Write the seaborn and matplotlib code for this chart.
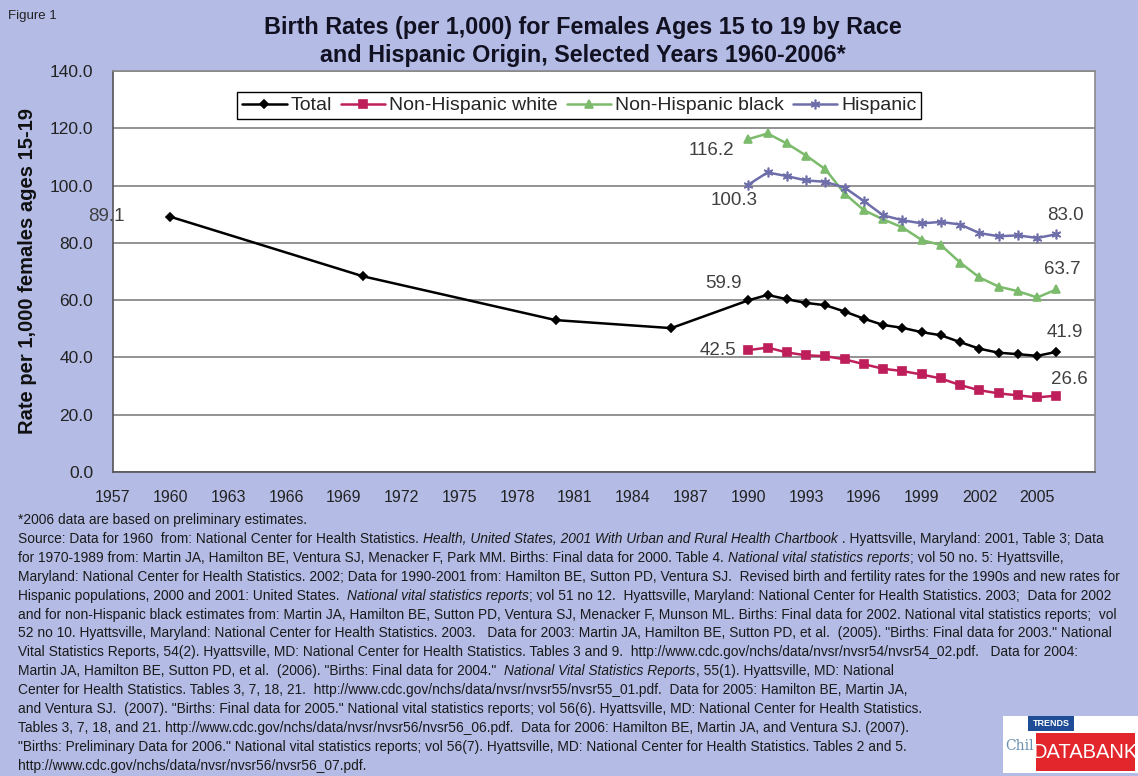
import numpy as np
import pandas as pd
import matplotlib.pyplot as plt
import seaborn as sns
from matplotlib.patches import Rectangle

sns.set_style("white")
plt.rcParams['font.family'] = ['Liberation Sans', 'DejaVu Sans']

# Veriler
total_years = [1960, 1970, 1980, 1986, 1990, 1991, 1992, 1993, 1994, 1995, 1996,
               1997, 1998, 1999, 2000, 2001, 2002, 2003, 2004, 2005, 2006]
total_rates = [89.1, 68.3, 53.0, 50.2, 59.9, 61.8, 60.3, 59.0, 58.2, 56.0, 53.5,
               51.3, 50.3, 48.8, 47.7, 45.3, 43.0, 41.6, 41.1, 40.5, 41.9]
race_years = list(range(1990, 2007))
white_rates = [42.5, 43.4, 41.7, 40.7, 40.4, 39.3, 37.6, 36.0, 35.2, 34.0, 32.6,
               30.3, 28.5, 27.4, 26.7, 26.0, 26.6]
black_rates = [116.2, 118.2, 114.7, 110.5, 105.7, 97.2, 91.4, 88.2, 85.4, 81.0, 79.2,
               73.1, 67.9, 64.7, 63.1, 60.9, 63.7]
hisp_rates = [100.3, 104.6, 103.3, 101.8, 101.3, 99.3, 94.6, 89.6, 87.9, 86.8, 87.3,
              86.4, 83.4, 82.3, 82.6, 81.7, 83.0]

series_names = ["Total", "Non-Hispanic white", "Non-Hispanic black", "Hispanic"]
x_ticks = list(range(1957, 2009, 3))
x_tick_labels = [str(y) if y <= 2005 else "" for y in x_ticks]
y_ticks = [0, 20, 40, 60, 80, 100, 120, 140]

frames = []
for name, yrs, vals in [("Total", total_years, total_rates),
                        ("Non-Hispanic white", race_years, white_rates),
                        ("Non-Hispanic black", race_years, black_rates),
                        ("Hispanic", race_years, hisp_rates)]:
    frames.append(pd.DataFrame({"year": yrs, "rate": vals, "series": name}))
df = pd.concat(frames, ignore_index=True)

styles = {
    "Total": dict(color="black", marker="D", markersize=4.5, mec="black"),
    "Non-Hispanic white": dict(color="#BE1E5A", marker="s", markersize=5.5, mec="#BE1E5A"),
    "Non-Hispanic black": dict(color="#7CBA6C", marker="^", markersize=6, mec="#7CBA6C"),
    "Hispanic": dict(color="#6E6EAA", marker=(6, 2, 0), markersize=7, mec="#6E6EAA"),
}

bg = "#B4BCE6"
fig = plt.figure(figsize=(11.38, 7.76), dpi=100, facecolor=bg)
ax = fig.add_axes([0.099, 0.392, 0.8632, 0.5164])
ax.set_facecolor("white")

for name in series_names:
    st = styles[name]
    sns.lineplot(data=df[df["series"] == name], x="year", y="rate", ax=ax,
                 color=st["color"], marker=st["marker"], markersize=st["markersize"],
                 markeredgecolor=st["mec"], markeredgewidth=1.2, linewidth=1.8,
                 estimator=None, sort=False, label=name)

ax.set_xlim(1957, 2008)
ax.set_ylim(0, 140)
ax.set_xticks(x_ticks)
ax.set_xticklabels(x_tick_labels, fontsize=11.5, color="#222222")
ax.set_yticks(y_ticks)
ax.set_yticklabels([f"{v:.1f}" for v in y_ticks], fontsize=12.5, color="#222222")
ax.tick_params(axis="both", direction="out", length=5, width=1, color="#666666")
ax.tick_params(axis="y", pad=9)
ax.tick_params(axis="x", pad=8)
ax.yaxis.grid(True, color="#8A8A8A", linewidth=1.3)
ax.set_axisbelow(True)
for s in ax.spines.values():
    s.set_color("#8A8A8A")
    s.set_linewidth(1.2)
ax.spines["left"].set_color("#555555")
ax.spines["bottom"].set_color("#555555")
ax.set_xlabel("")
ax.set_ylabel("Rate per 1,000 females ages 15-19", fontsize=14.5, fontweight="bold",
              color="#111111", labelpad=9)

# Veri etiketleri
label_points = [
    ("Total", 1960, (-64, 0)),
    ("Non-Hispanic black", 1990, (-37, -11)),
    ("Hispanic", 1990, (-14, -16)),
    ("Total", 1990, (-25, 17)),
    ("Non-Hispanic white", 1990, (-30, 0)),
    ("Hispanic", 2006, (9, 19)),
    ("Non-Hispanic black", 2006, (6, 20)),
    ("Total", 2006, (8, 19)),
    ("Non-Hispanic white", 2006, (13, 16)),
]
for name, yr, off in label_points:
    row = df[(df["series"] == name) & (df["year"] == yr)]
    val = row["rate"].iloc[0]
    ax.annotate(f"{val:.1f}", xy=(yr, val), xytext=off, textcoords="offset pixels",
                ha="center", va="center", fontsize=13.5, color="#404040")

leg = ax.legend(ncol=4, loc="upper left", bbox_to_anchor=(0.1265, 0.948), frameon=True,
                fancybox=False, edgecolor="black", framealpha=1, fontsize=14,
                handlelength=2.3, columnspacing=0.45, handletextpad=0.2,
                borderpad=0.25, borderaxespad=0)
leg.get_frame().set_linewidth(1.0)

fig.text(0.007, 0.979, "Figure 1", fontsize=9.5, color="#222222", va="center")
fig.text(0.512, 0.965, "Birth Rates (per 1,000) for Females Ages 15 to 19 by Race",
         fontsize=16.8, fontweight="bold", ha="center", va="center", color="#111122")
fig.text(0.512, 0.929, "and Hispanic Origin, Selected Years 1960-2006*",
         fontsize=16.8, fontweight="bold", ha="center", va="center", color="#111122")

# Kaynak notlari
note_lines = [
    [("*2006 data are based on preliminary estimates.", False)],
    [("Source: Data for 1960  from: National Center for Health Statistics. ", False),
     ("Health, United States, 2001 With Urban and Rural Health Chartbook", True),
     (" . Hyattsville, Maryland: 2001, Table 3; Data", False)],
    [("for 1970-1989 from: Martin JA, Hamilton BE, Ventura SJ, Menacker F, Park MM. Births: Final data for 2000. Table 4. ", False),
     ("National vital statistics reports", True),
     ("; vol 50 no. 5: Hyattsville,", False)],
    [("Maryland: National Center for Health Statistics. 2002; Data for 1990-2001 from: Hamilton BE, Sutton PD, Ventura SJ.  Revised birth and fertility rates for the 1990s and new rates for", False)],
    [("Hispanic populations, 2000 and 2001: United States.  ", False),
     ("National vital statistics reports", True),
     ("; vol 51 no 12.  Hyattsville, Maryland: National Center for Health Statistics. 2003;  Data for 2002", False)],
    [("and for non-Hispanic black estimates from: Martin JA, Hamilton BE, Sutton PD, Ventura SJ, Menacker F, Munson ML. Births: Final data for 2002. National vital statistics reports;  vol", False)],
    [("52 no 10. Hyattsville, Maryland: National Center for Health Statistics. 2003.   Data for 2003: Martin JA, Hamilton BE, Sutton PD, et al.  (2005). \"Births: Final data for 2003.\" National", False)],
    [("Vital Statistics Reports, 54(2). Hyattsville, MD: National Center for Health Statistics. Tables 3 and 9.  http://www.cdc.gov/nchs/data/nvsr/nvsr54/nvsr54_02.pdf.   Data for 2004:", False)],
    [("Martin JA, Hamilton BE, Sutton PD, et al.  (2006). \"Births: Final data for 2004.\"  ", False),
     ("National Vital Statistics Reports", True),
     (", 55(1). Hyattsville, MD: National", False)],
    [("Center for Health Statistics. Tables 3, 7, 18, 21.  http://www.cdc.gov/nchs/data/nvsr/nvsr55/nvsr55_01.pdf.  Data for 2005: Hamilton BE, Martin JA,", False)],
    [("and Ventura SJ.  (2007). \"Births: Final data for 2005.\" National vital statistics reports; vol 56(6). Hyattsville, MD: National Center for Health Statistics.", False)],
    [("Tables 3, 7, 18, and 21. http://www.cdc.gov/nchs/data/nvsr/nvsr56/nvsr56_06.pdf.  Data for 2006: Hamilton BE, Martin JA, and Ventura SJ. (2007).", False)],
    [("\"Births: Preliminary Data for 2006.\" National vital statistics reports; vol 56(7). Hyattsville, MD: National Center for Health Statistics. Tables 2 and 5.", False)],
    [("http://www.cdc.gov/nchs/data/nvsr/nvsr56/nvsr56_07.pdf.", False)],
]
note_size = 9.9
y0 = 1 - 520 / 776
dy = 18.9 / 776
for i, segs in enumerate(note_lines):
    yy = y0 - i * dy
    prev = None
    for txt, it in segs:
        style = "italic" if it else "normal"
        if prev is None:
            prev = fig.text(0.016, yy, txt, fontsize=note_size, style=style,
                            color="#1a1a1a", ha="left", va="center")
        else:
            prev = ax.annotate(txt, xy=(1, 0), xycoords=prev, fontsize=note_size,
                               style=style, color="#1a1a1a", ha="left", va="bottom",
                               annotation_clip=False)

# Child Trends DataBank logosu
def px_rect(x0, y0_, x1, y1, color, z):
    fig.patches.append(Rectangle((x0 / 1138, 1 - y1 / 776), (x1 - x0) / 1138,
                                 (y1 - y0_) / 776, transform=fig.transFigure,
                                 facecolor=color, edgecolor="none", zorder=z))

px_rect(1003, 716, 1138, 773, "white", 4)
fig.text(1005 / 1138, 1 - 746 / 776, "Chil", fontsize=10, family="DejaVu Serif",
         color="#6B8FB0", va="center", zorder=4.5)
px_rect(1028, 716, 1074, 731, "#1E4C96", 5)
px_rect(1036, 733, 1135, 771, "#E3262C", 5)
fig.text(1051 / 1138, 1 - 724 / 776, "TRENDS", fontsize=6.5, color="white",
         ha="center", va="center", fontweight="bold", zorder=6)
fig.text(1085.5 / 1138, 1 - 752 / 776, "DATABANK", fontsize=14.5, color="white",
         ha="center", va="center", zorder=6)

fig.savefig("out.png", dpi=100, facecolor=bg)
